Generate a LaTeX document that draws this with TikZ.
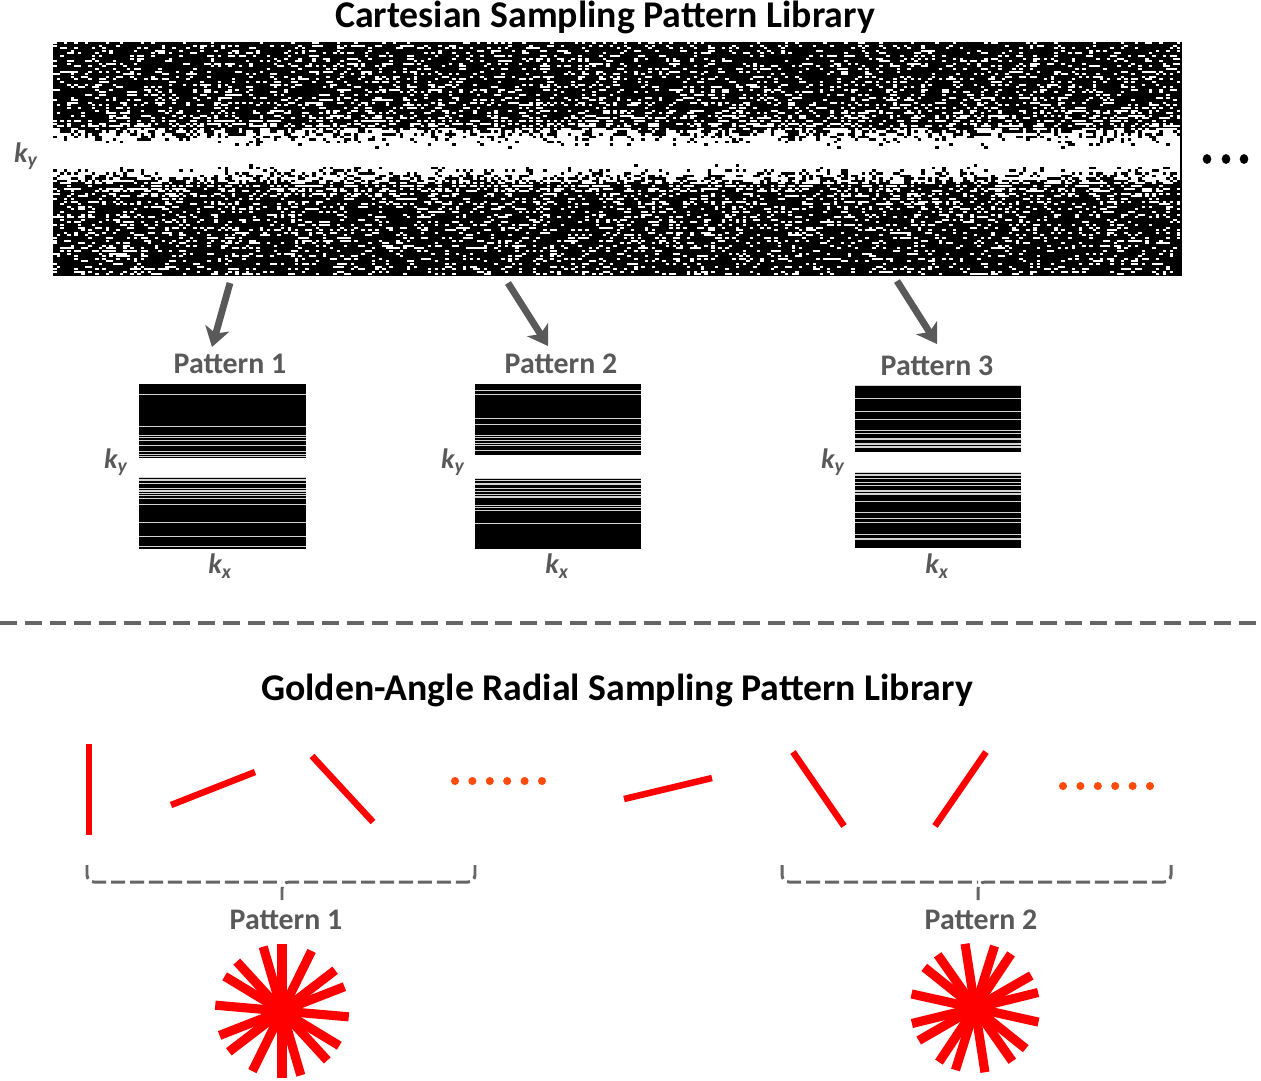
\documentclass[tikz,border=0pt]{standalone}
\usepackage{fontspec}
\setmainfont{Carlito}
\usetikzlibrary{arrows.meta,calc}
\definecolor{txtgray}{HTML}{595959}
\definecolor{dashgray}{HTML}{666666}
\definecolor{dotred}{HTML}{FF4A0A}
\newcommand\kay[1]{k\textsubscript{#1}}
% stripes: x1 x2 top gaptop gapbot bottom
\newcommand\mystripes[6]{%
  \fill[black] (#1,#3) rectangle (#2,#4);
  \fill[black] (#1,#5) rectangle (#2,#6);
  \pgfmathsetmacro\na{int((#4-#3)/1.6)-1}%
  \foreach \r in {0,...,\na}{%
    \pgfmathsetmacro\ya{#3+1.6*\r}%
    \pgfmathsetmacro\pa{0.1+0.75/(1+((#4-\ya)/14)^2)}%
    \pgfmathrnd
    \ifdim\pgfmathresult pt<\pa pt
      \fill[gray!35] (#1,\ya) rectangle (#2,\ya+0.9);
    \fi
  }%
  \pgfmathsetmacro\nb{int((#6-#5)/1.6)-1}%
  \foreach \r in {0,...,\nb}{%
    \pgfmathsetmacro\ya{#5+1.6*\r}%
    \pgfmathsetmacro\pa{0.1+0.75/(1+((\ya-#5)/14)^2)}%
    \pgfmathrnd
    \ifdim\pgfmathresult pt<\pa pt
      \fill[gray!35] (#1,\ya) rectangle (#2,\ya+0.9);
    \fi
  }%
}
\begin{document}
\begin{tikzpicture}[x=0.02cm,y=-0.02cm,
  title/.style={font=\fontsize{21.5}{24}\selectfont\bfseries, text=black, inner sep=0pt},
  plabel/.style={font=\fontsize{17}{20}\selectfont\bfseries, text=txtgray, inner sep=0pt},
  klabel/.style={font=\fontsize{16}{18}\selectfont\bfseries\itshape, text=txtgray, inner sep=0pt},
  garrow/.style={draw=txtgray, line width=3.9pt, -{Stealth[length=11pt,width=14pt,inset=3pt]}},
  redline/.style={draw=red, line width=3.7pt},
  spoke/.style={draw=red, line width=5.2pt},
  edot/.style={fill=dotred},
  bdot/.style={fill=black},
  bracket/.style={draw=dashgray, line width=1.7pt, dash pattern=on 8pt off 2.8pt, rounded corners=4pt},
  sepline/.style={draw=dashgray, line width=2.3pt, dash pattern=on 9.6pt off 4.5pt},
]
\useasboundingbox (0,0) rectangle (1261,1080);

% ---------- titles ----------
\node[title] (t1) at (605,17) {Cartesian Sampling Pattern Library};
\node[title] (t2) at (617,690) {Golden-Angle Radial Sampling Pattern Library};

% ---------- noise library ----------
\fill[black] (53,42) rectangle (1182,276);
\pgfmathsetseed{2024}
\begin{scope}[fill=white]
\foreach \j in {0,...,89}{%
  \pgfmathsetmacro\yy{42+2.6*\j}%
  \pgfmathsetmacro\dd{max(abs(\yy+1.3-156)-7,0)}%
  \pgfmathsetmacro\pp{0.2+0.8/(1+(\dd/15)^2)}%
  \pgfmathsetmacro\hh{(\pp>0.5)?2.6:1.9}%
  \foreach \i in {0,...,321}{%
    \pgfmathrnd
    \ifdim\pgfmathresult pt<\pp pt
      \pgfpathrectangle{\pgfpointxy{53+3.5*\i}{\yy}}{\pgfpointxy{3.5}{\hh}}%
      \pgfusepath{fill}%
    \fi
  }%
}
\end{scope}
\node[klabel] (ky0) at (26,156) {\kay{y}};
\fill[bdot] (1207,159) ellipse [x radius=2.45pt, y radius=2.8pt];
\fill[bdot] (1226,159) ellipse [x radius=2.45pt, y radius=2.8pt];
\fill[bdot] (1244,159) ellipse [x radius=2.45pt, y radius=2.8pt];

% ---------- arrows ----------
\coordinate (a1s) at (230,283); \coordinate (a1e) at (212,347);
\coordinate (a2s) at (508,283); \coordinate (a2e) at (548,346);
\coordinate (a3s) at (897,281); \coordinate (a3e) at (937,344);
\draw[garrow] (a1s) -- (a1e);
\draw[garrow] (a2s) -- (a2e);
\draw[garrow] (a3s) -- (a3e);

% ---------- patterns ----------
\node[plabel] (p1) at (230,364) {Pattern 1};
\node[plabel] (p2) at (561,364) {Pattern 2};
\node[plabel] (p3) at (937,366) {Pattern 3};
\mystripes{139}{306}{384}{458}{477}{549}
\mystripes{475}{641}{384}{455}{478}{549}
\mystripes{855}{1021}{385}{452}{472}{548}
\node[klabel] (ky1) at (116,462) {\kay{y}};
\node[klabel] (ky2) at (453,462) {\kay{y}};
\node[klabel] (ky3) at (833,462) {\kay{y}};
\node[klabel] (kx1) at (220,566) {\kay{x}};
\node[klabel] (kx2) at (557,566) {\kay{x}};
\node[klabel] (kx3) at (937,566) {\kay{x}};

% ---------- separator ----------
\coordinate (sepL) at (0,623); \coordinate (sepR) at (1258,623);
\draw[sepline] (sepL) -- (sepR);

% ---------- golden-angle spokes ----------
\coordinate (r1a) at (89,744);  \coordinate (r1b) at (89,835);
\coordinate (r2a) at (171,805); \coordinate (r2b) at (255,772);
\coordinate (r3a) at (312,756); \coordinate (r3b) at (373,822);
\coordinate (r4a) at (624,799); \coordinate (r4b) at (712,778);
\coordinate (r5a) at (793,752); \coordinate (r5b) at (844,826);
\coordinate (r6a) at (935,826); \coordinate (r6b) at (986,752);
\draw[redline] (r1a) -- (r1b);
\draw[redline] (r2a) -- (r2b);
\draw[redline] (r3a) -- (r3b);
\draw[redline] (r4a) -- (r4b);
\draw[redline] (r5a) -- (r5b);
\draw[redline] (r6a) -- (r6b);
\foreach \k in {0,...,5}{
  \fill[edot] (455+17.4*\k,781) circle [radius=2.3pt];
  \fill[edot] (1063+17.4*\k,786) circle [radius=2.3pt];
}

% ---------- brackets ----------
\draw[bracket] (87,865) |- (282,882);
\draw[bracket] (475,865) |- (282,882) -- (282,900);
\draw[bracket] (782,865) |- (978,882);
\draw[bracket] (1171,865) |- (978,882) -- (978,900);
\node[plabel] (gp1) at (286,920) {Pattern 1};
\node[plabel] (gp2) at (981,920) {Pattern 2};

% ---------- star bursts ----------
\coordinate (s1) at (282,1011);
\coordinate (s2) at (975,1008);
\foreach \t in {0,26.2,52.5,68.7,95,121.2,137.5,163.7}{
  \draw[spoke] ($(s1)+(\t-90:67)$) -- ($(s1)+(\t+90:67)$);
}
\foreach \t in {17.5,33.7,60,76.2,102.5,128.7,145,171.2}{
  \draw[spoke] ($(s2)+(\t-90:65)$) -- ($(s2)+(\t+90:65)$);
}
\end{tikzpicture}
\end{document}
